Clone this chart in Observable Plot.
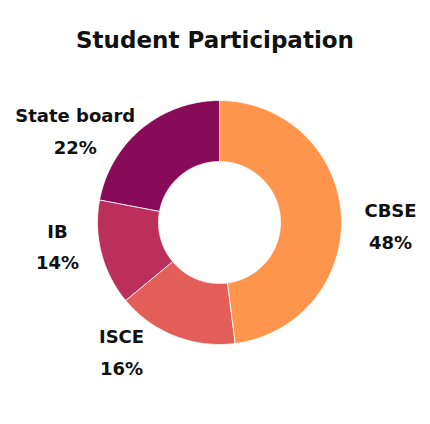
<!DOCTYPE html>
<html>
<head>
<meta charset="utf-8">
<script src="https://cdn.jsdelivr.net/npm/d3@7"></script>
<script src="https://cdn.jsdelivr.net/npm/@observablehq/plot@0.6"></script>
<style>
  html, body { margin: 0; padding: 0; background: #ffffff; }
  #wrap { width: 430px; height: 424px; overflow: hidden; }
  h1 { margin: 0; padding-top: 25px; height: 45px; box-sizing: content-box; text-align: center;
       font-family: "DejaVu Sans", sans-serif; font-weight: bold; font-size: 23px; color: #111; line-height: 30px; }
</style>
</head>
<body>
<div id="wrap">
<h1>Student Participation</h1>
<div id="chart"></div>
</div>
<script>
const categories = ["CBSE", "ISCE", "IB", "State board"];
const shares = [48, 16, 14, 22];
const colors = ["#FF944D", "#E35D59", "#BA2F5B", "#880B59"];

// layout
const W = 430, H = 354, cx = 219, cy = 152, R = 122;
const innerRatio = 0.5;
const labelRadius = 1.38;
const nudges = {"CBSE": [3, 11], "ISCE": [-36, -30], "IB": [1, -21], "State board": [-37, 35]};

const data = categories.map((c, i) => ({category: c, value: shares[i]}));
const arcs = d3.pie().sort(null).value(d => d.value).startAngle(0).endAngle(2 * Math.PI)(data);

const polyPoints = [];
for (const a of arcs) {
  const n = Math.max(8, Math.ceil((a.endAngle - a.startAngle) / 0.01));
  for (let k = 0; k <= n; k++) {
    const t = a.startAngle + (a.endAngle - a.startAngle) * k / n;
    polyPoints.push({category: a.data.category, x: Math.sin(t), y: Math.cos(t)});
  }
  for (let k = n; k >= 0; k--) {
    const t = a.startAngle + (a.endAngle - a.startAngle) * k / n;
    polyPoints.push({category: a.data.category, x: innerRatio * Math.sin(t), y: innerRatio * Math.cos(t)});
  }
}

const labels = arcs.map(a => {
  const m = (a.startAngle + a.endAngle) / 2;
  return {category: a.data.category, text: `${a.data.category}\n${a.data.value}%`,
          x: labelRadius * Math.sin(m), y: labelRadius * Math.cos(m)};
});

const textMarks = labels.map(l => Plot.text([l], {
  x: "x", y: "y", text: "text",
  dx: nudges[l.category][0], dy: nudges[l.category][1],
  fontSize: 18, fontWeight: "bold", fontFamily: "'DejaVu Sans', sans-serif",
  fill: "#111", lineHeight: 1.75, textAnchor: "middle"
}));

const plot = Plot.plot({
  width: W, height: H,
  margin: 0,
  x: {domain: [-cx / R, (W - cx) / R], axis: null},
  y: {domain: [-(H - cy) / R, cy / R], axis: null},
  color: {domain: categories, range: colors},
  style: {background: "#ffffff"},
  marks: [
    Plot.line(polyPoints, {x: "x", y: "y", z: "category", fill: "category",
      stroke: "#ffffff", strokeWidth: 0.8, curve: "linear-closed"}),
    ...textMarks
  ]
});
document.getElementById("chart").appendChild(plot);
</script>
</body>
</html>
